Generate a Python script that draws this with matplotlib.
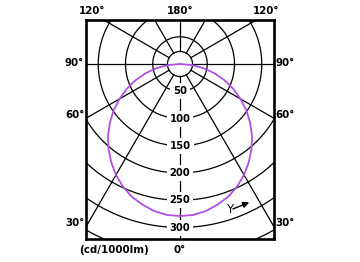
import matplotlib.pyplot as plt
import numpy as np

# polar luminous intensity diagram (cd/1000lm), angle measured from nadir
angles_deg = [0, 5, 10, 15, 20, 25, 30, 35, 40, 45, 50, 55, 60, 65, 70, 75, 80, 85, 90]
intensity = [279, 278, 274, 267, 259, 248, 235, 220, 204, 187, 168, 149, 128, 108, 87, 65, 44, 22, 0]

ring_values = [50, 100, 150, 200, 250, 300, 350]
ring_labels = ["50", "100", "150", "200", "250", "300"]
spoke_angles = [0, 30, 60, 90, 120, 150, 180, -30, -60, -90, -120, -150]
inner_r = 23

W, H = 360, 262
fig = plt.figure(figsize=(W / 100, H / 100), dpi=100)

# box in pixels: left 86, right 274, top 20, bottom 239 ; origin at (180, 64)
ax = fig.add_axes([86 / W, 1 - 239 / H, 188 / W, 219 / H])
px = 0.545  # pixels per cd
ax.set_xlim(-94 / px, 94 / px)
ax.set_ylim(175 / px, -44 / px)
ax.set_xticks([])
ax.set_yticks([])
for s in ax.spines.values():
    s.set_linewidth(1.9)
    s.set_zorder(6)

grid_kw = dict(color="black", lw=0.9, zorder=1)

# rings
t = np.linspace(0, 2 * np.pi, 400)
for R in ring_values:
    ax.plot(R * np.sin(t), R * np.cos(t), **grid_kw)
ax.plot(inner_r * np.sin(t), inner_r * np.cos(t), **grid_kw)

# spokes
for a in spoke_angles:
    r = np.deg2rad(a)
    ax.plot([inner_r * np.sin(r), 600 * np.sin(r)],
            [inner_r * np.cos(r), 600 * np.cos(r)], **grid_kw)

# distribution curve (symmetric)
th = np.deg2rad(np.array(angles_deg))
I = np.array(intensity, dtype=float)
th_all = np.concatenate([-th[::-1], th[1:]])
I_all = np.concatenate([I[::-1], I[1:]])
ax.plot(I_all * np.sin(th_all), I_all * np.cos(th_all),
        color="#b24fe4", lw=1.3, zorder=3)

# ring labels on the vertical axis
for R, lab in zip(ring_values, ring_labels):
    ax.text(0, R, lab, ha="center", va="center", fontsize=7.2,
            fontweight="bold", zorder=5,
            bbox=dict(boxstyle="square,pad=0.3", fc="white", ec="none"))

# Y arrow
ax.text(91, 267, "Y", ha="center", va="center", fontsize=8.5, zorder=5)
ax.annotate("", xy=(127, 254), xytext=(97, 266), zorder=5,
            arrowprops=dict(arrowstyle="-|>", color="black", lw=1.0,
                            mutation_scale=9, shrinkA=0, shrinkB=0))

# angle labels around the box
outer = [("120°", 92, 11), ("180°", 180, 11), ("120°", 266.5, 11),
         ("90°", 74.5, 63), ("90°", 285, 63),
         ("60°", 74.5, 115), ("60°", 285, 115),
         ("30°", 74.5, 223), ("30°", 285, 223),
         ("(cd/1000lm)", 114.5, 250), ("0°", 180, 250)]
for s, x, y in outer:
    fig.text(x / W, 1 - y / H, s, ha="center", va="center", fontsize=7.4,
             fontweight="bold")

fig.savefig("out.png", dpi=100)
